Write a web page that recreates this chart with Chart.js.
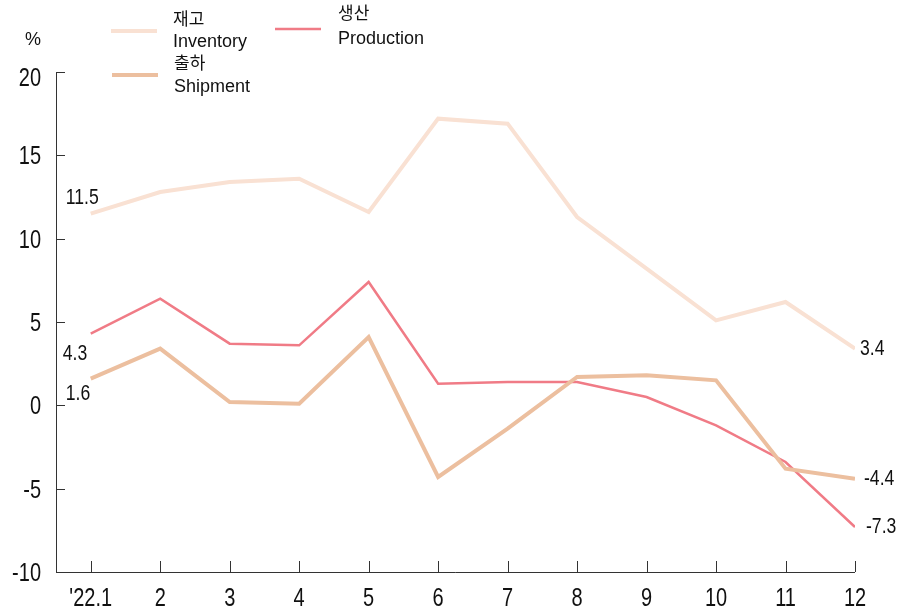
<!DOCTYPE html>
<html>
<head>
<meta charset="utf-8">
<script src="https://cdn.jsdelivr.net/npm/chart.js@4"></script>
<style>
  html, body { margin: 0; padding: 0; background: #fff; }
  #wrap { width: 902px; height: 612px; }
</style>
</head>
<body>
<div id="wrap"><canvas id="c" width="902" height="612"></canvas></div>
<script>
  const months = ["'22.1", '2', '3', '4', '5', '6', '7', '8', '9', '10', '11', '12'];
  const inventory = [11.5, 12.8, 13.4, 13.6, 11.6, 17.2, 16.9, 11.3, 8.2, 5.1, 6.2, 3.4];
  const shipment = [1.6, 3.4, 0.2, 0.1, 4.1, -4.3, -1.4, 1.7, 1.8, 1.5, -3.8, -4.4];
  const production = [4.3, 6.4, 3.7, 3.6, 7.4, 1.3, 1.4, 1.4, 0.5, -1.2, -3.4, -7.3];
  const yTicks = [20, 15, 10, 5, 0, -5, -10];

  const colInv = '#f9e1d3';
  const colShip = '#ecbf9f';
  const colProd = '#f07b86';
  const axisCol = '#333';
  const sans = '"Liberation Sans", Arial, sans-serif';
  const kr = '"Noto Sans CJK KR", sans-serif';

  const toPts = arr => arr.map((v, i) => ({ x: i + 1, y: v }));

  // condensed text like Arial Narrow: squeeze horizontally
  function narrowText(ctx, txt, x, y, align, size) {
    const sx = 0.8;
    ctx.save();
    ctx.font = size + 'px ' + sans;
    ctx.textAlign = align;
    ctx.textBaseline = 'middle';
    ctx.translate(x, y);
    ctx.scale(sx, 1);
    ctx.fillText(txt, 0, 0);
    ctx.restore();
  }

  // axes, ticks, value labels and legend drawn by hand
  const decor = {
    id: 'decor',
    afterDraw(chart) {
      const ctx = chart.ctx;
      const xs = chart.scales.x, ys = chart.scales.y;
      const a = chart.chartArea;
      ctx.save();
      ctx.strokeStyle = axisCol;
      ctx.lineWidth = 1;
      ctx.beginPath();
      ctx.moveTo(a.left + 0.5, a.top);
      ctx.lineTo(a.left + 0.5, a.bottom + 0.5);
      ctx.lineTo(a.right, a.bottom + 0.5);
      yTicks.forEach(t => {
        const y = Math.round(ys.getPixelForValue(t)) + 0.5;
        ctx.moveTo(a.left, y);
        ctx.lineTo(a.left + 9, y);
      });
      months.forEach((m, i) => {
        const x = Math.round(xs.getPixelForValue(i + 1)) + 0.5;
        ctx.moveTo(x, a.bottom);
        ctx.lineTo(x, a.bottom - 11);
      });
      ctx.stroke();

      ctx.fillStyle = '#111';
      yTicks.forEach(t => {
        narrowText(ctx, String(t), 41, ys.getPixelForValue(t) + (t === 20 ? 7 : 2), 'right', 25);
      });
      months.forEach((m, i) => {
        narrowText(ctx, m, xs.getPixelForValue(i + 1), 599, 'center', 25);
      });
      ctx.font = '18px ' + sans;
      ctx.textAlign = 'center';
      ctx.textBaseline = 'middle';
      ctx.fillText('%', 33, 40);

      // value labels
      const x1 = xs.getPixelForValue(1), x12 = xs.getPixelForValue(12);
      narrowText(ctx, String(inventory[0]), x1 - 25, ys.getPixelForValue(inventory[0]) - 16, 'left', 22);
      narrowText(ctx, String(production[0]), x1 - 28, ys.getPixelForValue(production[0]) + 20, 'left', 22);
      narrowText(ctx, String(shipment[0]), x1 - 25, ys.getPixelForValue(shipment[0]) + 15, 'left', 22);
      narrowText(ctx, String(inventory[11]), x12 + 5, ys.getPixelForValue(inventory[11]), 'left', 22);
      narrowText(ctx, String(shipment[11]), x12 + 9, ys.getPixelForValue(shipment[11]), 'left', 22);
      narrowText(ctx, String(production[11]), x12 + 11, ys.getPixelForValue(production[11]), 'left', 22);

      // legend
      const items = [
        { col: colInv, w: 4, x: 111, y: 31, kr: '재고', en: 'Inventory', tx: 173, ky: 19, ey: 42 },
        { col: colShip, w: 4, x: 112, y: 75, kr: '출하', en: 'Shipment', tx: 174, ky: 63, ey: 87 },
        { col: colProd, w: 2.5, x: 275, y: 29, kr: '생산', en: 'Production', tx: 338, ky: 13, ey: 39 }
      ];
      ctx.textAlign = 'left';
      items.forEach(it => {
        ctx.strokeStyle = it.col;
        ctx.lineWidth = it.w;
        ctx.beginPath();
        ctx.moveTo(it.x, it.y);
        ctx.lineTo(it.x + 46, it.y);
        ctx.stroke();
        ctx.fillStyle = '#111';
        ctx.font = '17px ' + kr;
        ctx.fillText(it.kr, it.tx, it.ky);
        ctx.font = '18px ' + sans;
        ctx.fillText(it.en, it.tx, it.ey);
      });
      ctx.restore();
    }
  };

  new Chart(document.getElementById('c'), {
    type: 'line',
    data: {
      datasets: [
        { label: 'Inventory', data: toPts(inventory), borderColor: colInv, borderWidth: 4 },
        { label: 'Shipment', data: toPts(shipment), borderColor: colShip, borderWidth: 4 },
        { label: 'Production', data: toPts(production), borderColor: colProd, borderWidth: 2.5 }
      ]
    },
    options: {
      responsive: false,
      animation: false,
      elements: { point: { radius: 0 }, line: { tension: 0, borderJoinStyle: 'miter' } },
      layout: { padding: { left: 56, right: 47, top: 72, bottom: 40 } },
      scales: {
        x: { type: 'linear', min: 0.5, max: 12, display: false },
        y: { min: -10, max: 20, display: false }
      },
      plugins: { legend: { display: false }, tooltip: { enabled: false } }
    },
    plugins: [decor]
  });
</script>
</body>
</html>
